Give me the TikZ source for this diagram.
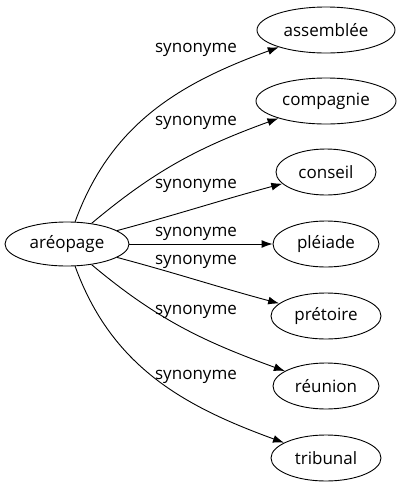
\documentclass[tikz,border=0pt]{standalone}
\usepackage{fontspec}
\setmainfont{Open Sans}
\usetikzlibrary{shapes.geometric,arrows.meta}
\tikzset{
  word/.style={draw, ellipse, inner sep=0pt, line width=0.9pt, font=\fontsize{17}{19}\selectfont},
  syn/.style={-{Latex[length=11,width=8]}, line width=0.9pt},
  lbl/.style={font=\fontsize{17}{19}\selectfont}
}
\begin{document}
\begin{tikzpicture}[x=1pt,y=-1pt]
  \useasboundingbox (0,0) rectangle (402,491);
  % helper grid: comment for final drawing
  % \draw[help lines,step=20] (0,0) grid (402,491);
  \node[word, minimum width=124, minimum height=44] (areopage) at (67,244) {aréopage};
  \node[word, minimum width=138, minimum height=46] (assemblee) at (326,30) {assemblée};
  \node[word, minimum width=140, minimum height=46] (compagnie) at (326,101) {compagnie};
  \node[word, minimum width=100, minimum height=46] (conseil) at (326,172) {conseil};
  \node[word, minimum width=106, minimum height=46] (pleiade) at (326,244) {pléiade};
  \node[word, minimum width=110, minimum height=46] (pretoire) at (326,316) {prétoire};
  \node[word, minimum width=106, minimum height=46] (reunion) at (326,386) {réunion};
  \node[word, minimum width=110, minimum height=46] (tribunal) at (326,458) {tribunal};
  \draw[syn] (areopage) to[out=70, in=200] (assemblee);
  \draw[syn] (areopage) to[out=40, in=200] (compagnie);
  \draw[syn] (areopage) to[out=15, in=195] (conseil);
  \draw[syn] (areopage) -- (pleiade);
  \draw[syn] (areopage) to[out=-15, in=165] (pretoire);
  \draw[syn] (areopage) to[out=-40, in=160] (reunion);
  \draw[syn] (areopage) to[out=-70, in=160] (tribunal);
  \node[lbl] (l1) at (196,50) {synonyme};
  \node[lbl] (l2) at (196,123) {synonyme};
  \node[lbl] (l3) at (196,186) {synonyme};
  \node[lbl] (l4) at (196,234) {synonyme};
  \node[lbl] (l5) at (196,262) {synonyme};
  \node[lbl] (l6) at (196,312) {synonyme};
  \node[lbl] (l7) at (196,377) {synonyme};
\end{tikzpicture}
\end{document}
